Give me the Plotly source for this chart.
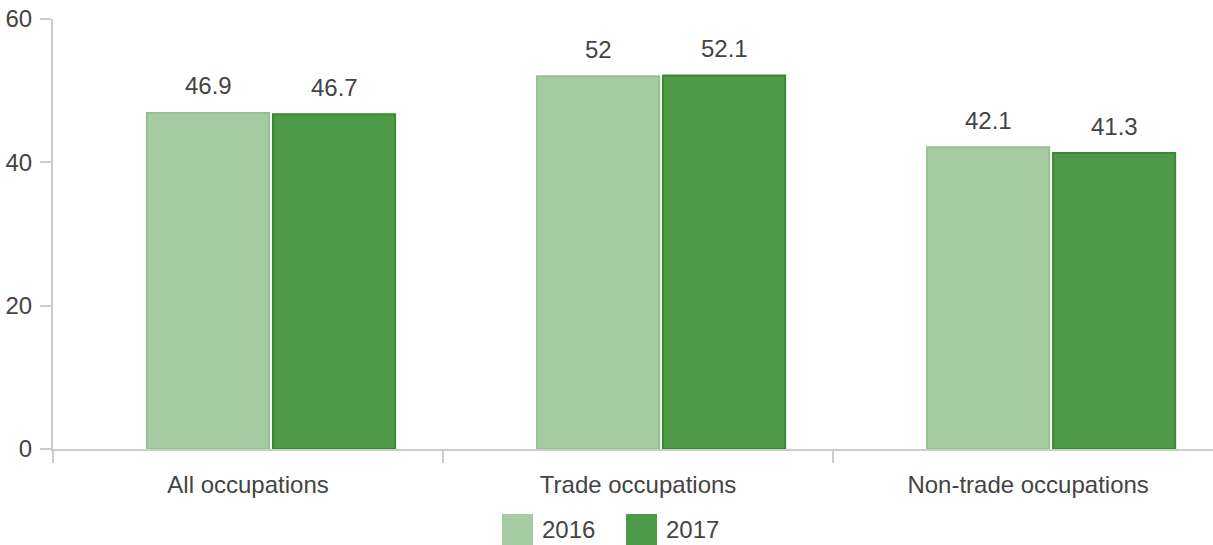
import plotly.graph_objects as go

# Data
categories = ["All occupations", "Trade occupations", "Non-trade occupations"]
years = ["2016", "2017"]
values_2016 = [46.9, 52, 42.1]
values_2017 = [46.7, 52.1, 41.3]
y_ticks = [0, 20, 40, 60]

# Styling
FILL = {"2016": "#a6cba2", "2017": "#4f9a48"}
EDGE = {"2016": "#93c28e", "2017": "#388a2f"}
OFFSET = {"2016": -0.259, "2017": 0.064}
BAR_W = 0.313
TEXT = "#444444"
AXIS = "#cccccc"
FONT = "Liberation Sans, Arial, sans-serif"
FS = 24

W, H = 1213, 545
M_L, M_R, M_T, M_B = 53, 0, 19, 96

fig = go.Figure()

for yr, vals in zip(years, [values_2016, values_2017]):
    fig.add_trace(go.Bar(
        x=categories, y=vals, name=yr,
        width=BAR_W, offset=OFFSET[yr],
        marker=dict(color=FILL[yr], line=dict(color=EDGE[yr], width=2)),
        showlegend=False,
    ))
    # value labels above each bar
    for i, v in enumerate(vals):
        fig.add_annotation(
            x=i + OFFSET[yr] + BAR_W / 2, y=v, xref="x", yref="y",
            text=f"{v:g}", showarrow=False, yanchor="middle", yshift=27,
            font=dict(family=FONT, size=FS, color=TEXT),
        )

# Legend drawn as swatches with text below the axis
plot_w = W - M_L - M_R
plot_h = H - M_T - M_B
def px_x(px):
    return (px - M_L) / plot_w
def px_y(py):
    return (H - M_B - py) / plot_h

legend_items = [("2016", 502), ("2017", 626)]
for yr, x0 in legend_items:
    fig.add_shape(type="rect", xref="paper", yref="paper",
                  x0=px_x(x0), x1=px_x(x0 + 31), y0=px_y(545), y1=px_y(514),
                  fillcolor=FILL[yr], line=dict(width=0))
    fig.add_annotation(xref="paper", yref="paper", x=px_x(x0 + 38), y=px_y(529),
                       xanchor="left", yanchor="middle", text=yr, showarrow=False,
                       font=dict(family=FONT, size=FS, color=TEXT))

fig.update_layout(
    width=W, height=H, autosize=False,
    margin=dict(l=M_L, r=M_R, t=M_T, b=M_B, pad=0),
    plot_bgcolor="white", paper_bgcolor="white",
    font=dict(family=FONT, size=FS, color=TEXT),
    barmode="group",
)
fig.update_xaxes(
    type="category", range=[-0.5, 2.474],
    showline=True, linecolor=AXIS, linewidth=2,
    ticks="outside", tickson="boundaries", ticklen=12, tickwidth=2, tickcolor=AXIS,
    showgrid=False, zeroline=False,
    tickfont=dict(family=FONT, size=FS, color=TEXT), ticklabelstandoff=13,
)
fig.update_yaxes(
    range=[0, 60], tickvals=y_ticks,
    showline=True, linecolor=AXIS, linewidth=2,
    ticks="outside", ticklen=11, tickwidth=2, tickcolor=AXIS,
    showgrid=False, zeroline=False,
    tickfont=dict(family=FONT, size=FS, color=TEXT), ticklabelstandoff=3,
)

fig.write_html("out.html")
